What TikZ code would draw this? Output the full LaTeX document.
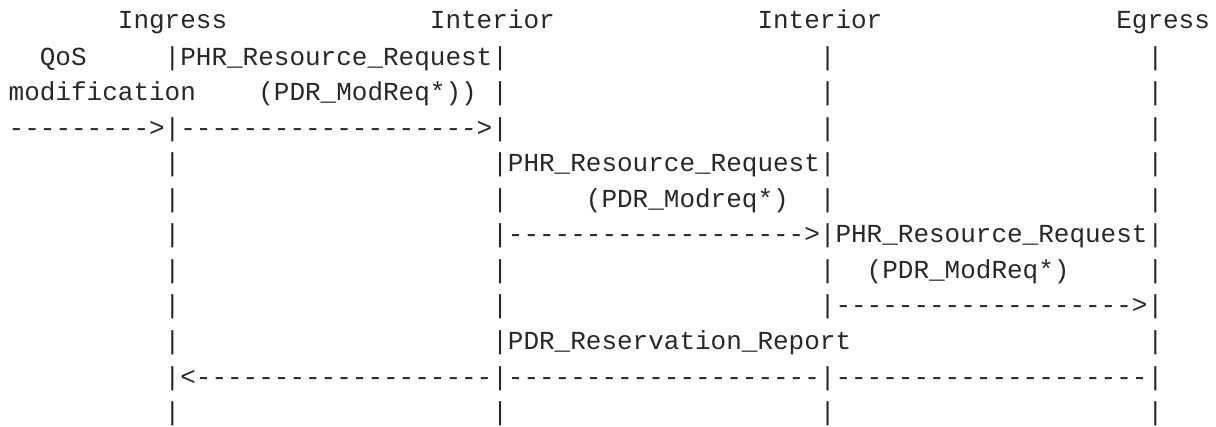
\documentclass[tikz,border=0pt]{standalone}
\usepackage{fontspec}
\setmonofont{Liberation Mono}
\definecolor{ink}{RGB}{40,40,40}
\tikzset{
  asc/.style={anchor=base west, inner sep=0pt, outer sep=0pt,
    font=\ttfamily\fontsize{26pt}{35.56pt}\selectfont, text=ink}
}
% name, column, baseline (from top), text
\newcommand{\seg}[4]{\node[asc] (#1) at ({8.7+#2*15.6},{-#3}) {#4};}
\begin{document}
\begin{tikzpicture}[x=1pt,y=1pt]
\useasboundingbox (0,0) rectangle (1216,-426);
\fill[white] (0,0) rectangle (1216,-426);
% row baselines
\def\rA{28.2}
\def\rB{65}
\def\rC{100.56}
\def\rD{136.12}
\def\rE{171.68}
\def\rF{207.24}
\def\rG{242.8}
\def\rH{278.36}
\def\rI{313.92}
\def\rJ{349.48}
\def\rK{385.04}
\def\rL{420.6}
% row 1: headers
\seg{hIng}{7}{\rA}{Ingress}
\seg{hIntA}{27}{\rA}{Interior}
\seg{hIntB}{48}{\rA}{Interior}
\seg{hEgr}{71}{\rA}{Egress}
% row 2
\seg{bQos}{2}{\rB}{QoS}
\seg{bReq}{10}{\rB}{|PHR\_Resource\_Request|}
\seg{bBarC}{52}{\rB}{|}
\seg{bBarD}{73}{\rB}{|}
% row 3
\seg{cMod}{0}{\rC}{modification}
\seg{cPdr}{16}{\rC}{(PDR\_ModReq*))}
\seg{cBarB}{31}{\rC}{|}
\seg{cBarC}{52}{\rC}{|}
\seg{cBarD}{73}{\rC}{|}
% row 4
\seg{dArr}{0}{\rD}{--------->|------------------->|}
\seg{dBarC}{52}{\rD}{|}
\seg{dBarD}{73}{\rD}{|}
% row 5
\seg{eBarA}{10}{\rE}{|}
\seg{eReq}{31}{\rE}{|PHR\_Resource\_Request|}
\seg{eBarD}{73}{\rE}{|}
% row 6
\seg{fBarA}{10}{\rF}{|}
\seg{fBarB}{31}{\rF}{|}
\seg{fPdr}{37}{\rF}{(PDR\_Modreq*)}
\seg{fBarC}{52}{\rF}{|}
\seg{fBarD}{73}{\rF}{|}
% row 7
\seg{gBarA}{10}{\rG}{|}
\seg{gArr}{31}{\rG}{|------------------->|PHR\_Resource\_Request|}
% row 8
\seg{hBarA}{10}{\rH}{|}
\seg{hBarB}{31}{\rH}{|}
\seg{hBarC}{52}{\rH}{|}
\seg{hPdr}{55}{\rH}{(PDR\_ModReq*)}
\seg{hBarD}{73}{\rH}{|}
% row 9
\seg{iBarA}{10}{\rI}{|}
\seg{iBarB}{31}{\rI}{|}
\seg{iArr}{52}{\rI}{|------------------->|}
% row 10
\seg{jBarA}{10}{\rJ}{|}
\seg{jRep}{31}{\rJ}{|PDR\_Reservation\_Report}
\seg{jBarD}{73}{\rJ}{|}
% row 11
\seg{kArr}{10}{\rK}{|<-------------------|--------------------|--------------------|}
% row 12
\seg{lBarA}{10}{\rL}{|}
\seg{lBarB}{31}{\rL}{|}
\seg{lBarC}{52}{\rL}{|}
\seg{lBarD}{73}{\rL}{|}
\end{tikzpicture}
\end{document}
